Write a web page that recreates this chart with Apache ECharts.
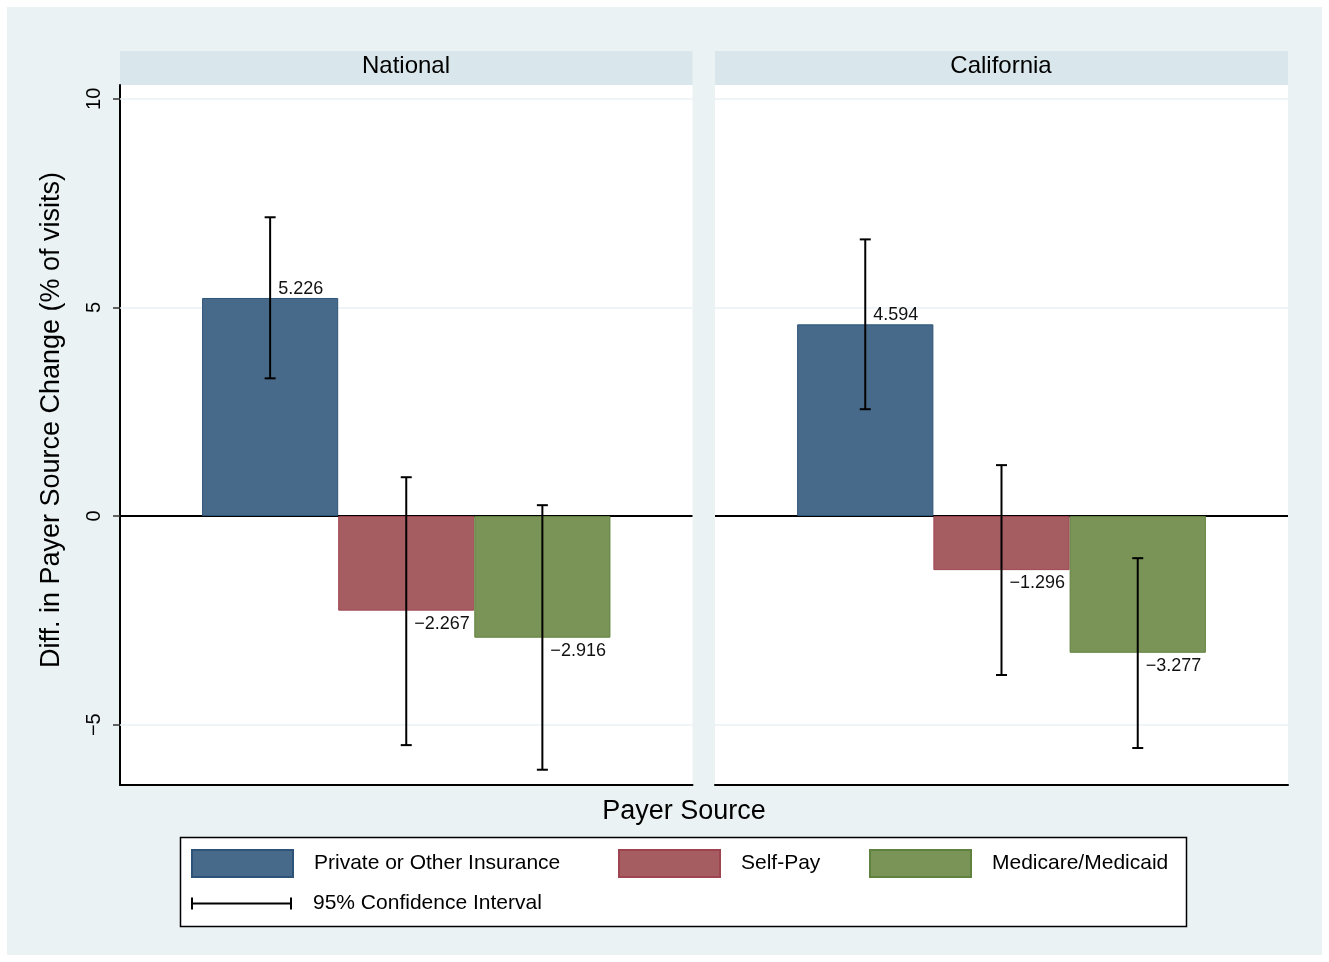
<!DOCTYPE html>
<html>
<head>
<meta charset="utf-8">
<script src="https://cdn.jsdelivr.net/npm/echarts@6/dist/echarts.min.js"></script>
<style>
  html, body { margin: 0; padding: 0; background: #ffffff; }
  #chart { width: 1329px; height: 962px; }
</style>
</head>
<body>
<div id="chart"></div>
<script>
// Panels and payer groups
const panels = ['National', 'California'];
const payerNames = ['Private or Other Insurance', 'Self-Pay', 'Medicare/Medicaid'];
const ciName = '95% Confidence Interval';

// Difference in payer source change (% of visits), one value per payer group
const nationalValues = [5.226, -2.267, -2.916];
const californiaValues = [4.594, -1.296, -3.277];

// 95% confidence bounds
const nationalLower = [3.30, -5.49, -6.08];
const nationalUpper = [7.16, 0.93, 0.26];
const californiaLower = [2.56, -3.81, -5.56];
const californiaUpper = [6.63, 1.22, -1.01];

// Y tick values and reference lines
const yTicks = [-5, 0, 5, 10];
const gridLineValues = [-5, 5, 10];

const yAxisTitle = 'Diff. in Payer Source Change (% of visits)';
const xAxisTitle = 'Payer Source';

const fills = ['#486A8A', '#A65D62', '#7A9357'];
const edges = ['#2D5478', '#9E4450', '#5F823E'];

const CAT_GAP = 0.2867;           // share of the panel left empty around the bar group
const FONT = '"Liberation Sans", Arial, Helvetica, sans-serif';

const panelValues = [nationalValues, californiaValues];
const panelLower = [nationalLower, californiaLower];
const panelUpper = [nationalUpper, californiaUpper];

const grids = [
  { left: 120, top: 85, width: 572.5, height: 700 },
  { left: 715, top: 85, width: 573, height: 700 }
];

function barLabel(v) {
  return {
    value: v,
    label: {
      position: v >= 0 ? 'top' : 'bottom',
      distance: v >= 0 ? 0 : 4,
      align: 'left',
      offset: [8, 0]
    }
  };
}

function renderCI(params, api) {
  const lo = api.value(1);
  const hi = api.value(2);
  const k = api.value(3);
  const band = api.size([1, 0])[0];
  const barW = band * (1 - CAT_GAP) / 3;
  const pLo = api.coord([0, lo]);
  const pHi = api.coord([0, hi]);
  const x = pLo[0] + (k - 1) * barW;
  const cap = 5.5;
  const st = { stroke: '#000', lineWidth: 2 };
  return {
    type: 'group',
    children: [
      { type: 'line', shape: { x1: x, y1: pLo[1], x2: x, y2: pHi[1] }, style: st },
      { type: 'line', shape: { x1: x - cap, y1: pLo[1], x2: x + cap, y2: pLo[1] }, style: st },
      { type: 'line', shape: { x1: x - cap, y1: pHi[1], x2: x + cap, y2: pHi[1] }, style: st }
    ]
  };
}

const series = [];
panels.forEach((p, gi) => {
  payerNames.forEach((name, k) => {
    const s = {
      name: name,
      type: 'bar',
      xAxisIndex: gi,
      yAxisIndex: gi,
      barGap: 0,
      barCategoryGap: (CAT_GAP * 100) + '%',
      data: [barLabel(panelValues[gi][k])],
      itemStyle: { color: fills[k], borderColor: edges[k], borderWidth: 1 },
      label: {
        show: true,
        color: '#111',
        fontFamily: FONT,
        fontSize: 18,
        formatter: (pr) => pr.value.toFixed(3).replace('-', '\u2212')
      },
      z: 2
    };
    if (k === 0) {
      s.markLine = {
        silent: true,
        symbol: 'none',
        label: { show: false },
        z: 1,
        data: gridLineValues.map(v => ({ yAxis: v, lineStyle: { color: '#EAF1F3', width: 1.5, type: 'solid' } }))
          .concat([{ yAxis: 0, lineStyle: { color: '#000', width: 2, type: 'solid' } }])
      };
    }
    series.push(s);
  });
  series.push({
    name: ciName,
    type: 'custom',
    xAxisIndex: gi,
    yAxisIndex: gi,
    itemStyle: { color: '#000' },
    renderItem: renderCI,
    data: payerNames.map((_, k) => [0, panelLower[gi][k], panelUpper[gi][k], k]),
    z: 5
  });
});

const xAxes = grids.map((g, gi) => ({
  type: 'category',
  gridIndex: gi,
  data: [panels[gi]],
  axisLine: { show: true, onZero: false, lineStyle: { color: '#000', width: 2 } },
  axisTick: { show: false },
  axisLabel: { show: false },
  splitLine: { show: false }
}));

const yAxes = grids.map((g, gi) => ({
  type: 'value',
  gridIndex: gi,
  min: -6.446,
  max: 10.33,
  axisLine: { show: gi === 0, lineStyle: { color: '#000', width: 2 } },
  axisTick: { show: gi === 0, customValues: yTicks, length: 7, lineStyle: { color: '#333', width: 1.5 } },
  axisLabel: {
    show: gi === 0,
    customValues: yTicks,
    rotate: 90,
    margin: 16,
    color: '#000',
    fontFamily: FONT,
    fontSize: 20,
    formatter: (v) => String(v).replace('-', '\u2212')
  },
  splitLine: { show: false }
}));

const legendItem = (name, left, top, extra) => Object.assign({
  data: [name],
  left: left,
  top: top,
  orient: 'horizontal',
  padding: 0,
  icon: 'rect',
  itemWidth: 101,
  itemHeight: 27,
  selectedMode: false,
  textStyle: { fontFamily: FONT, fontSize: 21, color: '#000', padding: [0, 0, 0, 16] }
}, extra || {});

const option = {
  backgroundColor: '#ffffff',
  animation: false,
  grid: grids.map(g => Object.assign({ show: true, backgroundColor: '#ffffff', borderWidth: 0, containLabel: false }, g)),
  xAxis: xAxes,
  yAxis: yAxes,
  legend: [
    legendItem(payerNames[0], 191, 849),
    legendItem(payerNames[1], 618, 849),
    legendItem(payerNames[2], 869, 849),
    legendItem(ciName, 191, 893, {
      itemHeight: 12,
      icon: 'path://M0,0h2v12h-2z M2,5h97v2h-97z M99,0h2v12h-2z'
    })
  ],
  graphic: [
    { type: 'rect', z: -10, silent: true, shape: { x: 7, y: 7, width: 1315, height: 948 }, style: { fill: '#EAF2F3' } },
    { type: 'rect', z: -5, silent: true, shape: { x: 120, y: 51, width: 572.5, height: 34 }, style: { fill: '#D9E6EB' } },
    { type: 'rect', z: -5, silent: true, shape: { x: 715, y: 51, width: 573, height: 34 }, style: { fill: '#D9E6EB' } },
    { type: 'text', silent: true, x: 406, y: 66, style: { text: panels[0], fill: '#000', font: '24px ' + FONT, textAlign: 'center', textVerticalAlign: 'middle' } },
    { type: 'text', silent: true, x: 1001, y: 66, style: { text: panels[1], fill: '#000', font: '24px ' + FONT, textAlign: 'center', textVerticalAlign: 'middle' } },
    { type: 'text', silent: true, x: 684, y: 812, style: { text: xAxisTitle, fill: '#000', font: '27px ' + FONT, textAlign: 'center', textVerticalAlign: 'middle' } },
    { type: 'text', silent: true, x: 52, y: 420, rotation: Math.PI / 2, style: { text: yAxisTitle, fill: '#000', font: '27px ' + FONT, textAlign: 'center', textVerticalAlign: 'middle' } },
    { type: 'rect', z: 1, silent: true, shape: { x: 180.5, y: 837.5, width: 1006, height: 89 }, style: { fill: '#ffffff', stroke: '#000', lineWidth: 1.5 } }
  ],
  series: series
};

const chart = echarts.init(document.getElementById('chart'), null, { renderer: 'canvas' });
chart.setOption(option);
</script>
</body>
</html>
